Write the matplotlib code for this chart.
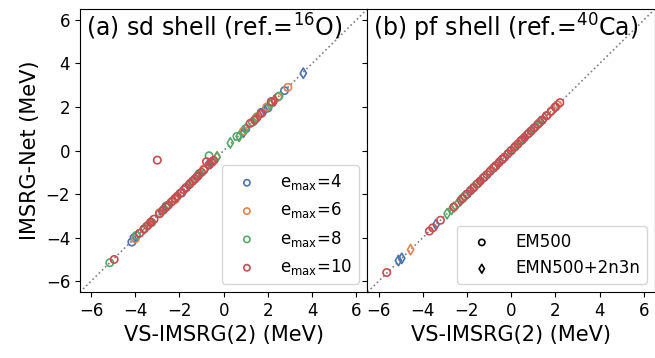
import matplotlib.pyplot as plt
import numpy as np

colors = ['#4C72B0', '#DD8452', '#55A868', '#C44E52']
emax_list = [4, 6, 8, 10]

# sd shell, EM500 (circles): x = VS-IMSRG(2), y = IMSRG-Net
sd_em_x = [
    [-4.15, -4.05, -3.3, -2.6, -1.9, -1.2, -0.5, 1.0, 1.7, 2.0, 2.75],
    [-4.0, -3.6, -2.9, -2.2, -1.5, -0.9, 0.9, 1.5, 1.95, 2.45, 2.9],
    [-5.15, -3.95, -3.25, -2.7, -1.7, -1.1, -0.66, 0.6, 1.3, 2.2, 2.5],
    [-4.95, -3.8, -3.6, -3.45, -3.3, -3.15, -3.0, -2.9, -2.75, -2.6, -2.5,
     -2.35, -2.2, -2.1, -1.95, -1.8, -1.7, -1.55, -1.4, -1.3, -1.15, -1.0,
     -0.9, -0.78, -0.65, -0.55, -0.45, 1.2, 1.4, 1.7, 2.15],
]
sd_em_y = [
    [-4.2, -4.0, -3.3, -2.55, -1.95, -1.2, -0.5, 1.0, 1.75, 1.95, 2.75],
    [-4.05, -3.6, -2.85, -2.25, -1.5, -0.85, 0.9, 1.55, 2.0, 2.45, 2.9],
    [-5.15, -3.9, -3.3, -2.7, -1.7, -1.05, -0.24, 0.65, 1.3, 2.2, 2.5],
    [-5.0, -3.8, -3.6, -3.45, -3.3, -3.15, -0.44, -2.9, -2.75, -2.6, -2.5,
     -2.35, -2.2, -2.1, -1.95, -1.8, -1.7, -1.55, -1.4, -1.3, -1.15, -1.0,
     -0.9, -0.51, -0.65, -0.55, -0.45, 1.25, 1.4, 1.7, 2.25],
]
# sd shell, EMN500+2n3n (diamonds)
sd_emn_x = [
    [-3.9, -2.8, -1.6, -0.7, 0.9, 1.85, 3.6],
    [-3.4, -2.4, -1.3, -0.3, 1.4, 2.3],
    [-3.6, -2.5, -1.5, -0.3, 0.3, 0.7, 1.0, 1.45, 2.1],
    [-3.3, -2.1, -1.2, -0.6, 1.6, 2.3],
]
sd_emn_y = [
    [-3.9, -2.8, -1.6, -0.65, 0.85, 1.85, 3.55],
    [-3.4, -2.4, -1.3, -0.3, 1.4, 2.3],
    [-3.6, -2.5, -1.5, -0.3, 0.35, 0.65, 1.0, 1.45, 2.1],
    [-3.3, -2.1, -1.2, -0.6, 1.6, 2.3],
]

# pf shell, EM500 (circles)
pf_em_x = [
    [-2.0, -1.2, -0.4, 0.5, 1.3, 2.0],
    [-1.7, -0.8, 0.2, 0.9, 1.6, 2.1],
    [-2.1, -1.5, -0.7, 0.0, 0.8, 1.4],
    [-5.63, -3.7, -3.55, -3.2, -2.6, -2.2, -2.0, -1.85, -1.7, -1.55, -1.4,
     -1.25, -1.1, -0.95, -0.8, -0.7, -0.55, -0.4, -0.3, -0.15, 0.0, 0.15,
     0.3, 0.45, 0.6, 0.75, 0.9, 1.05, 1.2, 1.4, 1.6, 1.8, 2.0, 2.2],
]
pf_em_y = [
    [-2.0, -1.2, -0.4, 0.5, 1.3, 2.0],
    [-1.7, -0.8, 0.2, 0.9, 1.6, 2.1],
    [-2.1, -1.5, -0.7, 0.0, 0.8, 1.4],
    [-5.6, -3.7, -3.55, -3.2, -2.6, -2.2, -2.0, -1.85, -1.7, -1.55, -1.4,
     -1.25, -1.1, -0.95, -0.8, -0.7, -0.55, -0.4, -0.3, -0.15, 0.0, 0.15,
     0.3, 0.45, 0.6, 0.75, 0.9, 1.05, 1.2, 1.4, 1.6, 1.8, 2.0, 2.2],
]
# pf shell, EMN500+2n3n (diamonds)
pf_emn_x = [
    [-5.1, -4.95, -3.4, -1.9, -0.6, 1.1, 2.0],
    [-4.55, -2.6, -1.0, 0.3, 1.2, 1.8],
    [-2.9, -2.7, -2.4, -2.2, -1.7, -1.0, -0.2, 0.1, 0.4, 0.9, 1.3],
    [-2.3, -1.4, -0.6, 0.6, 1.5],
]
pf_emn_y = [
    [-5.05, -4.95, -3.4, -1.9, -0.6, 1.1, 2.0],
    [-4.55, -2.6, -1.0, 0.3, 1.2, 1.8],
    [-2.9, -2.7, -2.4, -2.2, -1.7, -1.0, -0.2, 0.1, 0.4, 0.9, 1.3],
    [-2.3, -1.4, -0.6, 0.6, 1.5],
]

fig, axes = plt.subplots(1, 2, sharey=True, figsize=(6.55, 3.58), dpi=100)
plt.subplots_adjust(left=0.122, right=1.0, bottom=0.184, top=0.975, wspace=0)

panels = [
    (axes[0], sd_em_x, sd_em_y, sd_emn_x, sd_emn_y, '(a) sd shell (ref.=$^{16}$O)'),
    (axes[1], pf_em_x, pf_em_y, pf_emn_x, pf_emn_y, '(b) pf shell (ref.=$^{40}$Ca)'),
]

msize = 28
for ax, ex, ey, nx, ny, title in panels:
    ax.plot([-6.5, 6.5], [-6.5, 6.5], ':', color='gray', lw=1.2, zorder=1)
    for i in range(4):
        ax.scatter(ex[i], ey[i], s=msize, marker='o', facecolors='none',
                   edgecolors=colors[i], linewidths=1.2, zorder=2,
                   label='e$_{\\rm max}$=%d' % emax_list[i])
        ax.scatter(nx[i], ny[i], s=msize, marker='d', facecolors='none',
                   edgecolors=colors[i], linewidths=1.2, zorder=2)
    ax.set_xlim(-6.5, 6.5)
    ax.set_ylim(-6.5, 6.5)
    ax.set_xticks([-6, -4, -2, 0, 2, 4, 6])
    ax.set_yticks([-6, -4, -2, 0, 2, 4, 6])
    ax.tick_params(labelsize=12)
    ax.set_xlabel('VS-IMSRG(2) (MeV)', fontsize=15)
    ax.text(0.02, 0.99, title, transform=ax.transAxes, fontsize=17,
            va='top', ha='left')

axes[0].set_ylabel('IMSRG-Net (MeV)', fontsize=15)
axes[0].legend(loc='lower right', fontsize=12, markerscale=0.85,
               handlelength=2.2, handletextpad=0.9)

h1 = axes[1].scatter([], [], s=msize, marker='o', facecolors='none',
                     edgecolors='k', linewidths=1.2, label='EM500')
h2 = axes[1].scatter([], [], s=msize, marker='d', facecolors='none',
                     edgecolors='k', linewidths=1.2, label='EMN500+2n3n')
axes[1].legend(handles=[h1, h2], loc='lower right', fontsize=12,
               markerscale=0.85, handlelength=2.2, handletextpad=0.9)

plt.savefig('out.png', dpi=100)
